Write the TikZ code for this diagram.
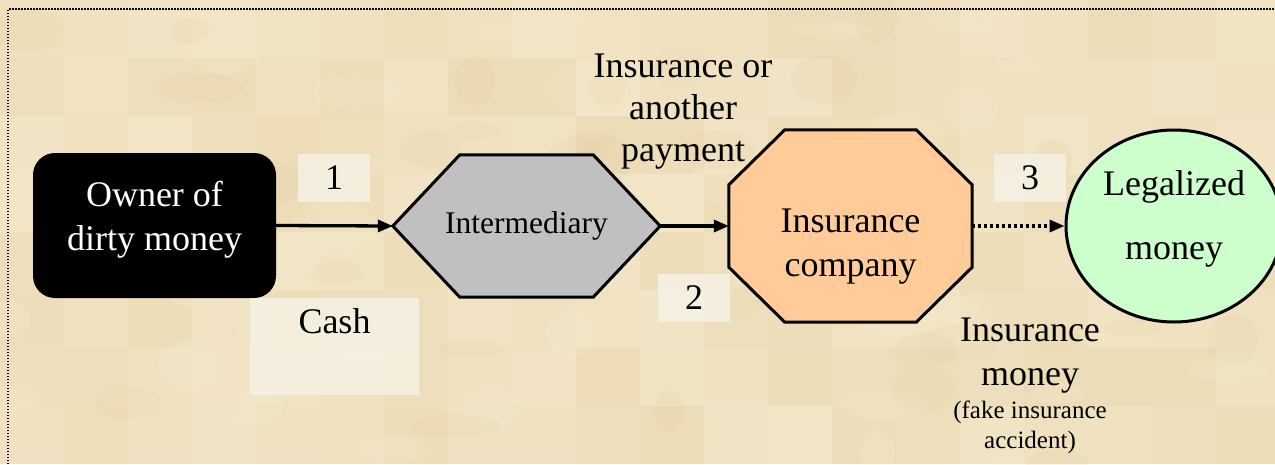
\documentclass[tikz,border=0pt]{standalone}
\usepackage{fontspec}
\setmainfont{Liberation Serif}
\usetikzlibrary{arrows.meta,calc,shapes.geometric}
\pgfdeclarelayer{paper}
\pgfdeclarelayer{shapes}
\pgfsetlayers{paper,shapes,main}

\definecolor{parchment}{RGB}{240,226,192}
\definecolor{parchdark}{RGB}{230,208,166}
\definecolor{parchlight}{RGB}{247,237,210}
\definecolor{midgray}{RGB}{192,192,192}
\definecolor{peach}{RGB}{255,204,153}
\definecolor{mint}{RGB}{204,255,204}
\definecolor{tag}{RGB}{246,241,228}

% stacked lines, lifted by #1 without changing the box size
\newcommand\liftlines[2]{\raisebox{#1}[\height][\depth]{\begin{tabular}{@{}c@{}}#2\end{tabular}}}

\begin{document}
\begin{tikzpicture}[x=1pt,y=-1pt,
  big/.style={font=\fontsize{36}{44}\selectfont},
  tagbox/.style={fill=tag, fill opacity=0.85, text opacity=1, inner sep=0pt,
                 big, minimum width=72pt, minimum height=48pt},
  flow/.style={line width=3.3pt, -{Triangle[length=15pt,width=12pt]}},
  outline/.style={line width=3pt, line join=miter},
]
\useasboundingbox (0,0) rectangle (1275,464);
\clip (0,0) rectangle (1275,464);

% parchment paper: mottled tiles
\begin{pgfonlayer}{paper}
  \fill[parchment] (0,0) rectangle (1275,464);
  \pgfmathsetseed{11}
  \foreach \col in {0,...,19} {
    \foreach \row in {0,...,7} {
      \pgfmathsetmacro{\mix}{random(0,100)}
      \fill[parchdark!\mix!parchlight, opacity=0.33]
        (\col*64,\row*58) rectangle ++(64,58);
    }
  }
  \foreach \i in {1,...,70} {
    \pgfmathsetmacro{\px}{random(0,1275)}
    \pgfmathsetmacro{\py}{random(0,464)}
    \pgfmathsetmacro{\rx}{random(15,45)}
    \pgfmathsetmacro{\ry}{random(8,25)}
    \pgfmathsetmacro{\mx}{random(0,1)}
    \ifdim\mx pt>0.5pt \def\patch{parchdark}\else\def\patch{parchlight}\fi
    \fill[\patch, opacity=0.2] (\px,\py) ellipse [x radius=\rx, y radius=\ry];
  }
\end{pgfonlayer}

% dotted frame
\draw[line width=1.5pt, dash pattern=on 1.5pt off 1.5pt] (8,464) -- (8,9) -- (1275,9);

% main stations
\node[fill=black, rounded corners=22pt, minimum width=243pt, minimum height=145pt,
      text=white, big, inner sep=0pt] (owner) at (154.5,225.5)
      {\liftlines{6pt}{Owner of\\dirty money}};
\node[minimum width=267pt, minimum height=142pt, inner sep=0pt,
      font=\fontsize{31.5}{38}\selectfont] (inter) at (526.5,226) {Intermediary};
\node[minimum width=243pt, minimum height=192pt, inner sep=0pt, big]
      (ins) at (850.5,226) {\liftlines{-20pt}{Insurance\\company}};
\node[ellipse, draw, outline, fill=mint, minimum width=216pt, minimum height=192pt,
      inner sep=0pt, big] (legal) at (1174,226)
      {\liftlines{7pt}{Legalized\\[20pt]money}};

% hexagon and octagon outlines around their nodes
\begin{pgfonlayer}{shapes}
  \filldraw[outline, fill=midgray] (inter.west)
    -- ($(inter.north west)+(67,0)$) -- ($(inter.north east)+(-67,0)$)
    -- (inter.east)
    -- ($(inter.south east)+(-67,0)$) -- ($(inter.south west)+(67,0)$) -- cycle;
  \filldraw[outline, fill=peach]
       ($(ins.north west)+(56,0)$) -- ($(ins.north east)+(-56,0)$)
    -- ($(ins.north east)+(0,55)$) -- ($(ins.south east)+(0,-55)$)
    -- ($(ins.south east)+(-56,0)$) -- ($(ins.south west)+(56,0)$)
    -- ($(ins.south west)+(0,-55)$) -- ($(ins.north west)+(0,55)$) -- cycle;
\end{pgfonlayer}

% step tags
\node[tagbox] (t1) at (334,178) {1};
\node[tagbox] (t2) at (694,298) {2};
\node[tagbox] (t3) at (1030,178) {3};
\node[tagbox, minimum width=169pt, minimum height=0pt, text height=35pt,
      text depth=62pt, anchor=north] (cash) at (334.5,298) {Cash};

% captions
\node[font=\fontsize{36}{42}\selectfont, align=center] (pay) at (683,112)
      {Insurance or\\another\\payment};
\node[big, align=center] (insm) at (1030,356) {Insurance\\money};
\node[font=\fontsize{25}{30}\selectfont, align=center] (fake) at (1030,427)
      {(fake insurance\\accident)};

% flows
\draw[flow] (owner.east) -- (inter.west);
\draw[flow] (inter.east) -- (ins.west);
\draw[flow, dash pattern=on 3pt off 3pt] (ins.east) -- (legal.west);
\end{tikzpicture}
\end{document}
